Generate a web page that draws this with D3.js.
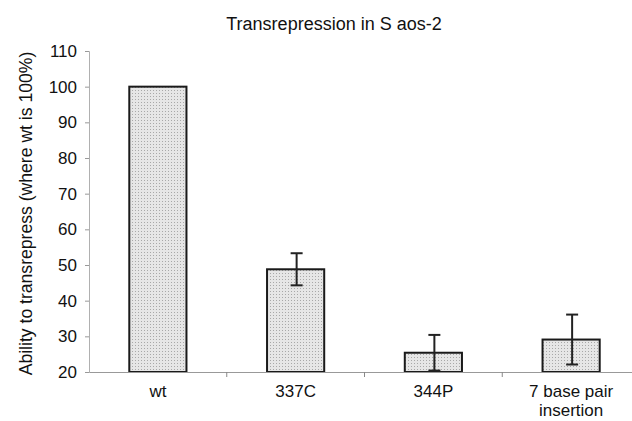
<!DOCTYPE html>
<html>
<head>
<meta charset="UTF-8">
<style>
  body { margin: 0; background: #fff; }
  svg { display: block; font-family: "Liberation Sans", Arial, sans-serif; }
</style>
</head>
<body>
<svg id="chart"></svg>
<script src="https://d3js.org/d3.v7.min.js"></script>
<script>
const categories = ["wt", "337C", "344P", "7 base pair|insertion"];
const values = [100, 48.8, 25.4, 29.1];
const errors = [0, 4.5, 5, 7];
const yTicks = [20, 30, 40, 50, 60, 70, 80, 90, 100, 110];

const width = 632, height = 421;
const margin = {top: 51, right: -8, bottom: 49, left: 89};

const svg = d3.select("#chart").attr("width", width).attr("height", height);

// dotted fill like the scanned figure
const defs = svg.append("defs");
const pat = defs.append("pattern")
    .attr("id", "dots").attr("width", 3).attr("height", 3)
    .attr("patternUnits", "userSpaceOnUse");
pat.append("rect").attr("width", 3).attr("height", 3).attr("fill", "#e6e6e6");
pat.append("rect").attr("width", 1).attr("height", 1).attr("fill", "#a8a8a8");

const x = d3.scaleBand()
    .domain(categories)
    .range([margin.left, width - margin.right])
    .paddingInner(0).paddingOuter(0);

const y = d3.scaleLinear()
    .domain([20, 110])
    .range([height - margin.bottom, margin.top]);

const barW = x.bandwidth() * 0.415;

// title
svg.append("text")
    .attr("x", 334).attr("y", 30)
    .attr("text-anchor", "middle")
    .attr("font-size", 18)
    .attr("fill", "#111")
    .text("Transrepression in S aos-2");

// y axis
const yAxis = svg.append("g")
    .attr("transform", `translate(${margin.left},0)`)
    .call(d3.axisLeft(y).tickValues(yTicks).tickSize(4).tickPadding(8));
yAxis.select(".domain").attr("stroke", "#b0b0b0").attr("stroke-width", 1);
yAxis.selectAll(".tick line").attr("stroke", "#999");
yAxis.selectAll(".tick text")
    .attr("font-size", 17)
    .attr("fill", "#111")
    .attr("font-family", "Liberation Sans, Arial, sans-serif");

// y title
svg.append("text")
    .attr("transform", `translate(32,${(y(20) + y(110)) / 2 + 2}) rotate(-90)`)
    .attr("text-anchor", "middle")
    .attr("font-size", 17.6)
    .attr("fill", "#111")
    .text("Ability to transrepress (where wt is 100%)");

// bars
svg.append("g").selectAll("rect")
    .data(categories)
    .join("rect")
    .attr("x", d => x(d) + x.bandwidth() / 2 - barW / 2)
    .attr("y", (d, i) => y(values[i]))
    .attr("width", barW)
    .attr("height", (d, i) => y(20) - y(values[i]))
    .attr("fill", "url(#dots)")
    .attr("stroke", "#1a1a1a")
    .attr("stroke-width", 2);

// error bars
const eb = svg.append("g").attr("stroke", "#222").attr("stroke-width", 2);
categories.forEach((c, i) => {
  if (!errors[i]) return;
  const cx = x(c) + x.bandwidth() / 2 + 1;
  const hi = y(values[i] + errors[i]), lo = y(values[i] - errors[i]);
  eb.append("line").attr("x1", cx).attr("x2", cx).attr("y1", hi).attr("y2", lo);
  eb.append("line").attr("x1", cx - 6).attr("x2", cx + 6).attr("y1", hi).attr("y2", hi);
  eb.append("line").attr("x1", cx - 6).attr("x2", cx + 6).attr("y1", lo).attr("y2", lo);
});

// x axis
const xAxis = svg.append("g")
    .attr("transform", `translate(0,${y(20)})`)
    .call(d3.axisBottom(x).tickSize(0).tickFormat(""));
xAxis.select(".domain").attr("stroke", "#999").attr("stroke-width", 1.2);
// boundary ticks between categories
xAxis.selectAll(".sep")
    .data(categories.slice(1))
    .join("line")
    .attr("x1", d => x(d)).attr("x2", d => x(d))
    .attr("y1", 0).attr("y2", 5)
    .attr("stroke", "#888");

const lab = svg.append("g").attr("font-size", 17).attr("fill", "#111").attr("text-anchor", "middle");
categories.forEach(c => {
  const t = lab.append("text")
      .attr("x", x(c) + x.bandwidth() / 2)
      .attr("y", y(20) + 25);
  c.split("|").forEach((s, k) => {
    t.append("tspan").attr("x", x(c) + x.bandwidth() / 2).attr("dy", k ? 19 : 0).text(s);
  });
});
</script>
</body>
</html>
